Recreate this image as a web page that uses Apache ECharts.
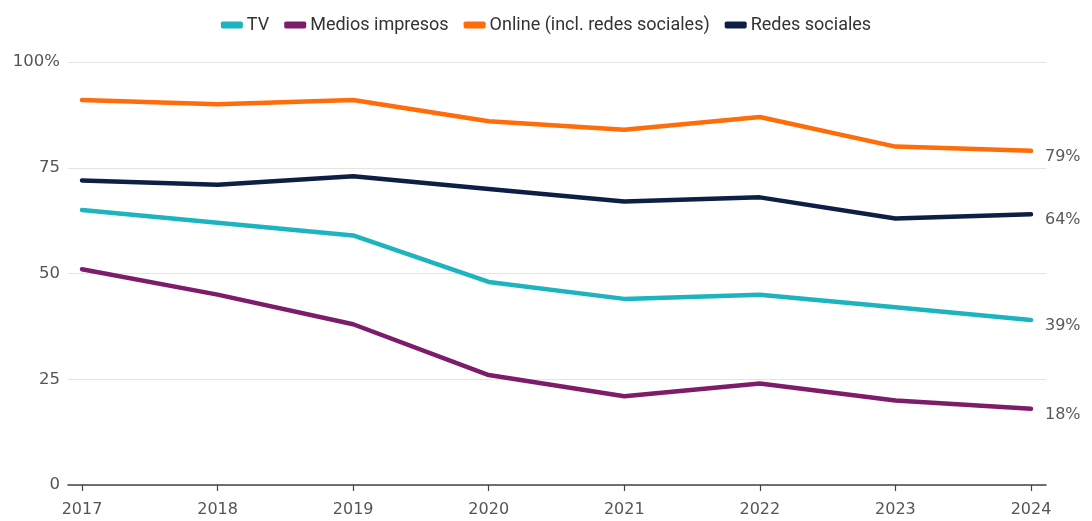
<!DOCTYPE html>
<html>
<head>
<meta charset="utf-8">
<script src="https://cdn.jsdelivr.net/npm/echarts@6/dist/echarts.min.js"></script>
<style>
  html, body { margin: 0; padding: 0; background: #ffffff; }
  #chart { width: 1092px; height: 521px; }
</style>
</head>
<body>
<div id="chart"></div>
<script>
// Años del eje horizontal
const years = ['2017', '2018', '2019', '2020', '2021', '2022', '2023', '2024'];

// Porcentaje que usa cada medio como fuente de noticias
const tv = [65, 62, 59, 48, 44, 45, 42, 39];
const medios = [51, 45, 38, 26, 21, 24, 20, 18];
const online = [91, 90, 91, 86, 84, 87, 80, 79];
const redes = [72, 71, 73, 70, 67, 68, 63, 64];

// Etiquetas del eje vertical
const yTicks = [0, 25, 50, 75, 100];
const yLabels = ['0', '25', '50', '75', '100%'];

const seriesDefs = [
  { name: 'TV', data: tv, color: '#1db3bf' },
  { name: 'Medios impresos', data: medios, color: '#7d1c6b' },
  { name: 'Online (incl. redes sociales)', data: online, color: '#ff6c0a' },
  { name: 'Redes sociales', data: redes, color: '#0e1f45' }
];

const labelFont = '"DejaVu Sans", "Noto Sans", sans-serif';
const legendFont = 'Roboto, "Noto Sans", sans-serif';

const chart = echarts.init(document.getElementById('chart'), null, { renderer: 'canvas' });

chart.setOption({
  animation: false,
  backgroundColor: '#ffffff',
  legend: {
    top: 11,
    left: 'center',
    itemWidth: 22,
    itemHeight: 7,
    itemGap: 15,
    icon: 'roundRect',
    textStyle: { fontFamily: legendFont, fontSize: 18, color: '#333', padding: [0, 0, 0, -1] },
    data: seriesDefs.map(s => s.name)
  },
  grid: [
    // outer frame: gridlines and baseline
    { left: 68, right: 46, top: 62, bottom: 36 },
    // inner frame: the year positions and the lines
    { left: 82, right: 61, top: 62, bottom: 36 }
  ],
  xAxis: [
    {
      gridIndex: 0,
      type: 'value',
      min: 0,
      max: 1,
      axisLine: { show: true, lineStyle: { color: '#444', width: 1.5 } },
      axisTick: { show: false },
      axisLabel: { show: false },
      splitLine: { show: false }
    },
    {
      gridIndex: 1,
      type: 'category',
      data: years,
      boundaryGap: false,
      axisLine: { show: false },
      axisTick: { show: true, alignWithLabel: true, length: 6, lineStyle: { color: '#444', width: 1.2 } },
      axisLabel: { color: '#555', fontSize: 16, fontFamily: labelFont, margin: 17 },
      splitLine: { show: false }
    }
  ],
  yAxis: [
    {
      gridIndex: 0,
      type: 'value',
      min: 0,
      max: 100,
      interval: 25,
      axisLine: { show: false },
      axisTick: { show: false },
      axisLabel: {
        color: '#555',
        fontSize: 16.5,
        fontFamily: labelFont,
        margin: 8,
        formatter: v => yLabels[yTicks.indexOf(v)]
      },
      splitLine: { show: true, lineStyle: { color: '#e4e4e4', width: 1 } }
    },
    {
      gridIndex: 1,
      type: 'value',
      min: 0,
      max: 100,
      interval: 25,
      show: false
    }
  ],
  series: seriesDefs.map(s => ({
    name: s.name,
    type: 'line',
    xAxisIndex: 1,
    yAxisIndex: 1,
    data: s.data,
    symbol: 'none',
    smooth: false,
    lineStyle: { color: s.color, width: 4.5, cap: 'round', join: 'round' },
    itemStyle: { color: s.color },
    endLabel: {
      show: true,
      formatter: p => p.value + '%',
      color: '#5a5a5a',
      fontSize: 16,
      fontFamily: labelFont,
      distance: 14,
      offset: [0, 6]
    }
  }))
});
</script>
</body>
</html>
